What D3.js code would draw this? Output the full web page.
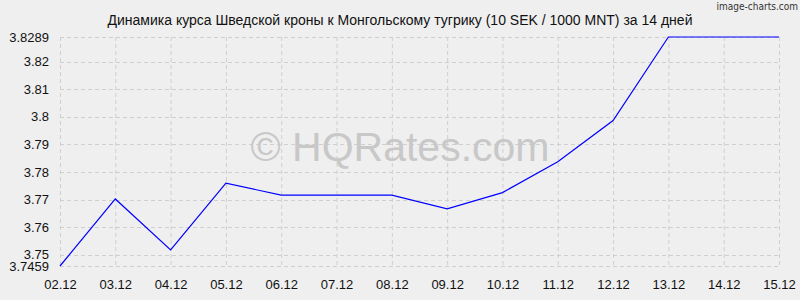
<!DOCTYPE html>
<html><head><meta charset="utf-8">
<script src="https://cdn.jsdelivr.net/npm/d3@7"></script>
<style>body{margin:0;background:#efefef;}svg{display:block;}</style>
</head><body><svg id="c" width="800" height="300"></svg>
<script>
const dates = ["02.12","03.12","04.12","05.12","06.12","07.12","08.12","09.12","10.12","11.12","12.12","13.12","14.12","15.12"];
const rates = [3.7459,3.7702,3.7517,3.7759,3.7716,3.7716,3.7716,3.7666,3.7725,3.7837,3.7986,3.8289,3.8289,3.8289];
const yTicks = [3.7459,3.75,3.76,3.77,3.78,3.79,3.8,3.81,3.82,3.8289];
const yTickLabels = ["3.7459","3.75","3.76","3.77","3.78","3.79","3.8","3.81","3.82","3.8289"];
const title = "Динамика курса Шведской кроны к Монгольскому тугрику (10 SEK / 1000 MNT) за 14 дней";

const svg = d3.select("#c");
const font = "'Liberation Sans', Arial, sans-serif";
svg.append("rect").attr("width",800).attr("height",300).attr("fill","#efefef");

const x = d3.scalePoint().domain(dates).range([60,779]);
const y = d3.scaleLinear().domain([3.7459,3.8289]).range([266,37]);

// grid
const g = svg.append("g");
g.selectAll("line.v").data(dates).join("line")
  .attr("x1",d=>x(d)+0.5).attr("x2",d=>x(d)+0.5).attr("y1",37).attr("y2",266)
  .attr("stroke","#cfcfcf").attr("stroke-dasharray","4,3");
g.selectAll("line.h").data(yTicks).join("line")
  .attr("x1",60).attr("x2",779).attr("y1",d=>Math.round(y(d))+0.5).attr("y2",d=>Math.round(y(d))+0.5)
  .attr("stroke","#cfcfcf").attr("stroke-dasharray","4,3");

// watermark
svg.append("text").attr("x",400).attr("y",161).attr("text-anchor","middle")
  .attr("font-family",font).attr("font-size",41).attr("fill","#c8c8c8").text("© HQRates.com");

// axes
const yAxis = d3.axisLeft(y).tickValues(yTicks).tickSize(0).tickPadding(11)
  .tickFormat((d,i)=>yTickLabels[i]);
const ya = svg.append("g").attr("transform","translate(60,0)").call(yAxis);
ya.select(".domain").remove();
ya.selectAll("text").attr("font-family",font).attr("font-size",13).attr("fill","#111");

const xAxis = d3.axisBottom(x).tickSize(0).tickPadding(14);
const xa = svg.append("g").attr("transform","translate(0,266)").call(xAxis);
xa.select(".domain").remove();
xa.selectAll("text").attr("font-family",font).attr("font-size",13).attr("fill","#111");

// line
svg.append("path").datum(rates)
  .attr("d",d3.line().x((d,i)=>x(dates[i])).y(d=>y(d)))
  .attr("fill","none").attr("stroke","#0000ff").attr("stroke-width",1.2);

// title
svg.append("text").attr("x",400).attr("y",25).attr("text-anchor","middle")
  .attr("font-family",font).attr("font-size",14).attr("fill","#111").text(title);
svg.append("text").attr("x",798).attr("y",10).attr("text-anchor","end")
  .attr("font-family","'DejaVu Sans Condensed', 'DejaVu Sans', sans-serif").attr("font-size",10).attr("fill","#333").text("image-charts.com");
</script></body></html>
